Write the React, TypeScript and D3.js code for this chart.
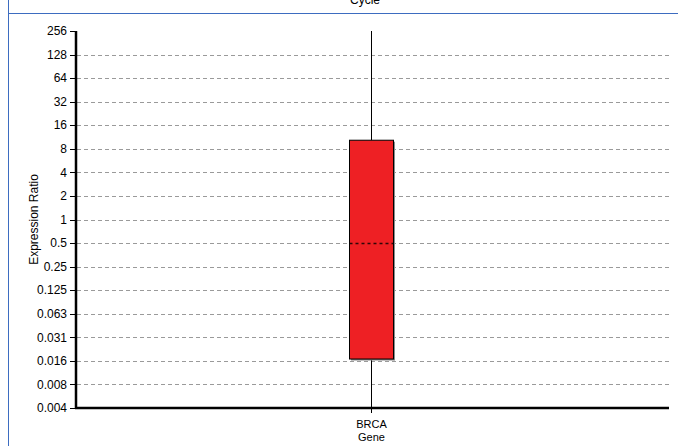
import React from 'react';
import * as d3 from 'd3';

const genes = ['BRCA'];
const tickValues = [256, 128, 64, 32, 16, 8, 4, 2, 1, 0.5, 0.25, 0.125, 0.0625, 0.03125, 0.015625, 0.0078125, 0.00390625];
const tickLabels = ['256', '128', '64', '32', '16', '8', '4', '2', '1', '0.5', '0.25', '0.125', '0.063', '0.031', '0.016', '0.008', '0.004'];
const whiskerLow = [0.00390625];
const q1 = [0.0165];
const median = [0.5];
const q3 = [10.3];
const whiskerHigh = [256];

const W = 678;
const H = 446;
const m = { l: 76, r: 669, t: 31, b: 408 };
const blue = '#3d6cc0';
const font = '"Liberation Sans", Arial, sans-serif';

export default function App() {
  const y = d3.scaleLog().base(2).domain([0.00390625, 256]).range([m.b, m.t]);
  const x = d3.scaleBand().domain(genes).range([m.l, m.r - 3]).paddingInner(0.2).paddingOuter(6.2);
  const bw = 44;

  return (
    <svg width={W} height={H} style={{ position: 'absolute', left: 0, top: 0, background: '#fff' }} fontFamily={font}>
      {/* frames */}
      <rect x={8.5} y={-20} width={W} height={33.5} fill="none" stroke={blue} />
      <line x1={8.5} x2={8.5} y1={13} y2={H} stroke={blue} />
      <text x={365} y={4} fontSize={12} textAnchor="middle" fill="#000">Cycle</text>

      {/* gridlines */}
      {tickValues.slice(1, -1).map((v) => (
        <line key={v} x1={m.l + 1} x2={m.r} y1={Math.round(y(v)) + 0.5} y2={Math.round(y(v)) + 0.5}
          stroke="#9a9a9a" strokeDasharray="4,3" />
      ))}

      {/* boxes */}
      {genes.map((g, i) => {
        const cx = Math.round((x(g) || 0) + x.bandwidth() / 2) + 0.5;
        const top = y(q3[i]);
        const bot = y(q1[i]);
        return (
          <g key={g}>
            <line x1={cx} x2={cx} y1={y(whiskerHigh[i])} y2={top} stroke="#000" />
            <line x1={cx} x2={cx} y1={bot} y2={y(whiskerLow[i])} stroke="#000" />
            <rect x={cx - bw / 2 + 1.5} y={top + 1.5} width={bw} height={bot - top} fill="#8a8a8a" />
            <rect x={cx - bw / 2} y={top} width={bw} height={bot - top} fill="#ee2024" stroke="#000" />
            <line x1={cx - bw / 2} x2={cx + bw / 2} y1={Math.round(y(median[i])) + 0.5} y2={Math.round(y(median[i])) + 0.5}
              stroke="#000" strokeDasharray="3,3" strokeWidth={1.5} opacity={0.8} />
            <line x1={cx} x2={cx} y1={m.b} y2={m.b + 5} stroke="#000" />
            <text x={cx} y={m.b + 20} fontSize={11} textAnchor="middle" fill="#000">{g}</text>
            <text x={cx} y={m.b + 33} fontSize={11} textAnchor="middle" fill="#000">Gene</text>
          </g>
        );
      })}

      {/* y axis ticks */}
      {tickValues.map((v, i) => (
        <g key={v}>
          <line x1={m.l - 6} x2={m.l} y1={Math.round(y(v)) + 0.5} y2={Math.round(y(v)) + 0.5} stroke="#000" />
          <text x={m.l - 9} y={y(v)} dy="0.35em" fontSize={12} textAnchor="end" fill="#000">{tickLabels[i]}</text>
        </g>
      ))}

      {/* axes */}
      <line x1={m.l} x2={m.l} y1={m.t} y2={m.b + 1} stroke="#000" strokeWidth={2.5} />
      <line x1={m.l - 1} x2={m.r} y1={m.b} y2={m.b} stroke="#000" strokeWidth={2.5} />

      <text transform={`translate(38,${(m.t + m.b) / 2}) rotate(-90)`} fontSize={12} textAnchor="middle" fill="#000">Expression Ratio</text>
    </svg>
  );
}
